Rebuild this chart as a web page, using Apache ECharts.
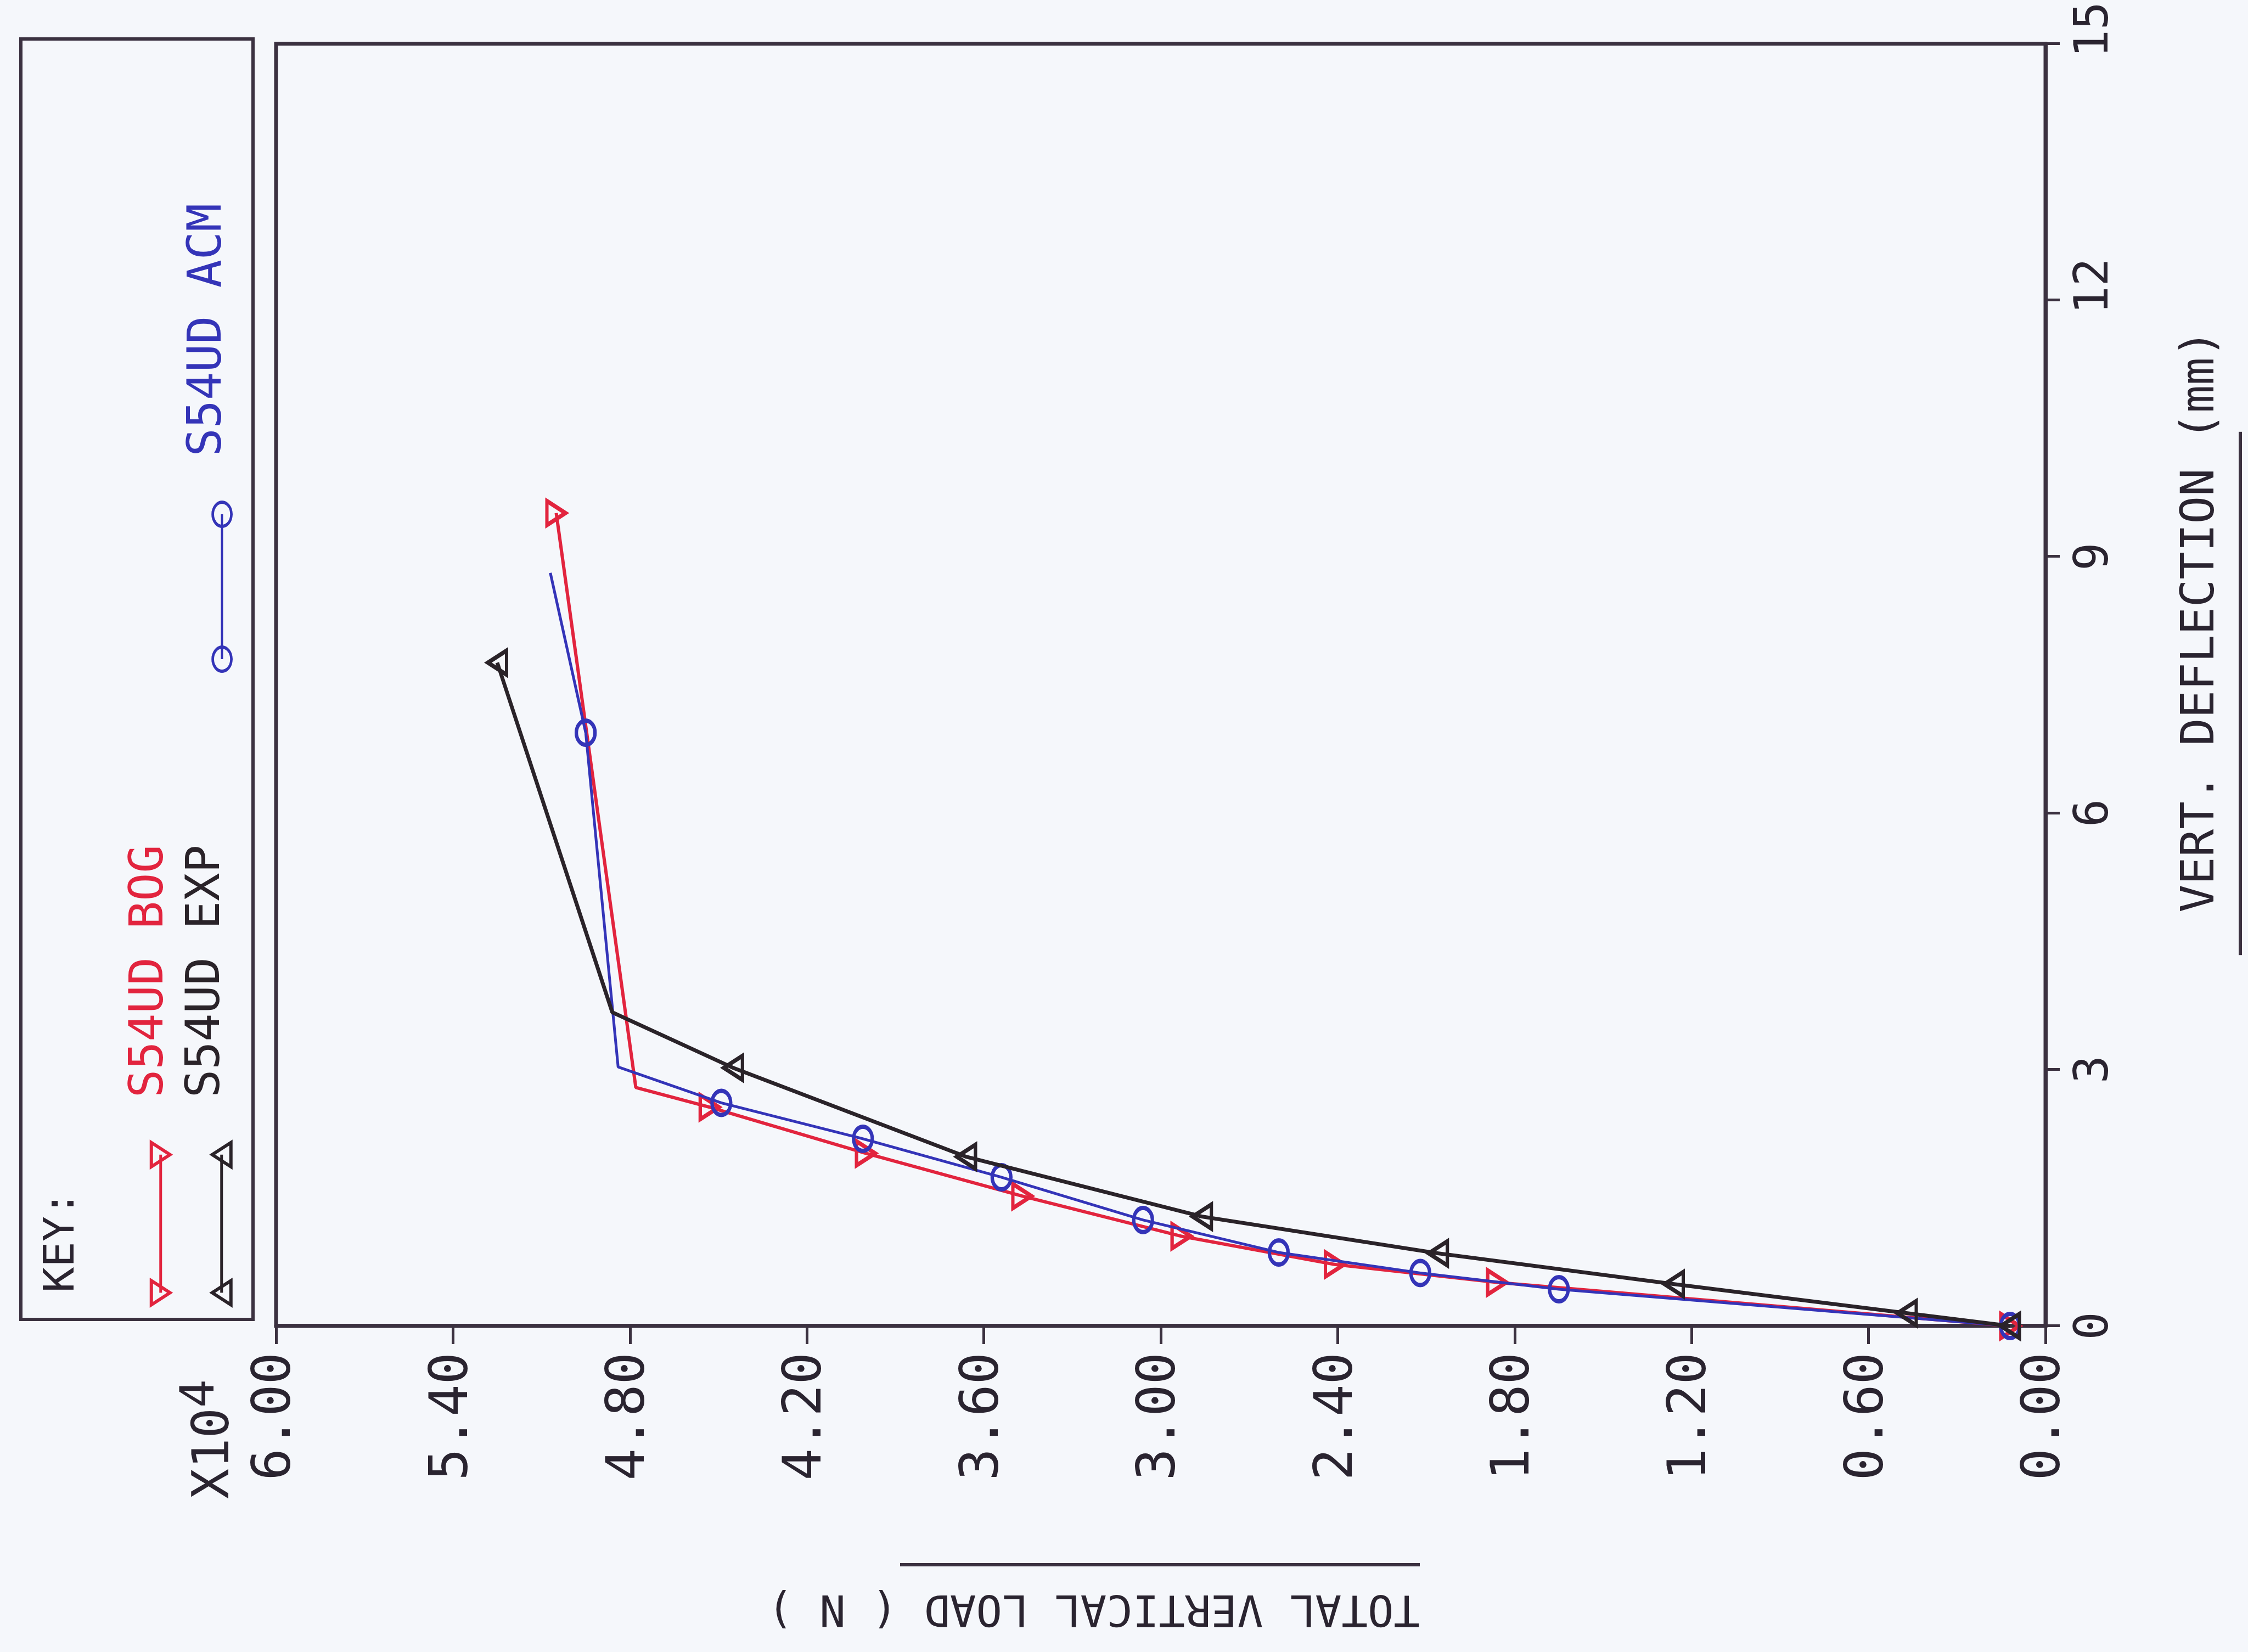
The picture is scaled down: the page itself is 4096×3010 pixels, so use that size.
<!DOCTYPE html>
<html>
<head>
<meta charset="utf-8">
<script src="https://cdn.jsdelivr.net/npm/echarts@6/dist/echarts.min.js"></script>
<style>
  html, body { margin: 0; padding: 0; width: 4096px; height: 3010px; overflow: hidden; background: #f5f7fb; }
  /* The plot is laid out upright and the sheet is then turned a quarter turn anticlockwise. */
  #chart { position: absolute; left: 543px; top: -543px; width: 3010px; height: 4096px;
           transform: rotate(-90deg); transform-origin: 50% 50%; }
</style>
</head>
<body>
<div id="chart"></div>
<script>
// Load-deflection curves for specimen S54UD: BOG and ACM predictions against experiment.
// Deflection in mm, load in units of 10^4 N.
const deflectionTicks = [0, 3, 6, 9, 12, 15];
const loadTicks = [0.00, 0.60, 1.20, 1.80, 2.40, 3.00, 3.60, 4.20, 4.80, 5.40, 6.00];

const bogDeflection = [0, 0.51, 0.72, 1.05, 1.52, 2.02, 2.56, 2.79, 9.51];
const bogLoad       = [0.12, 1.86, 2.41, 2.93, 3.47, 4.00, 4.53, 4.78, 5.05];
const bogUnmarked   = [7];

const expDeflection = [0, 0.15, 0.49, 0.85, 1.28, 1.98, 3.02, 3.67, 7.76];
const expLoad       = [0.12, 0.47, 1.26, 2.06, 2.86, 3.66, 4.45, 4.86, 5.25];
const expUnmarked   = [7];

const acmDeflection = [0, 0.43, 0.62, 0.86, 1.24, 1.74, 2.19, 2.61, 3.03, 6.94, 8.81];
const acmLoad       = [0.12, 1.65, 2.12, 2.60, 3.06, 3.54, 4.01, 4.49, 4.84, 4.95, 5.07];
const acmUnmarked   = [8, 10];

const seriesNames = ['S54UD BOG', 'S54UD EXP', 'S54UD ACM'];

const RED = '#e2243e';
const BLUE = '#3434b8';
const DARK = '#2a2329';
const AXIS = '#3b3140';
const TEXT = '#2a2430';
const BG = '#f5f7fb';
const FONT = '"DejaVu Sans Mono", "Liberation Mono", monospace';

const MARK = [44, 34];

function points(xs, ys, unmarked) {
  return xs.map((x, i) => unmarked.includes(i)
    ? { value: [x, ys[i]], symbol: 'none' }
    : [x, ys[i]]);
}

function lineSeries(name, data, color, width, symbol, rotate, z) {
  return {
    type: 'line', name, data, z,
    symbol, symbolRotate: rotate, symbolSize: MARK,
    showSymbol: true, showAllSymbol: true, clip: false,
    lineStyle: { color, width },
    itemStyle: { color: 'transparent', borderColor: color, borderWidth: 7 },
    emphasis: { disabled: true },
    animation: false
  };
}

// legend glyphs
function triangle(cx, cy, down, color) {
  const w = MARK[0] / 2, h = MARK[1] / 2;
  const pts = down
    ? [[cx - w, cy - h], [cx + w, cy - h], [cx, cy + h]]
    : [[cx, cy - h], [cx + w, cy + h], [cx - w, cy + h]];
  return { type: 'polygon', shape: { points: pts }, style: { fill: 'none', stroke: color, lineWidth: 6 }, z: 10 };
}
function ellipse(cx, cy, color) {
  return { type: 'circle', x: cx, y: cy, scaleY: MARK[1] / MARK[0],
           shape: { cx: 0, cy: 0, r: MARK[0] / 2 }, style: { fill: 'none', stroke: color, lineWidth: 6 }, z: 10 };
}
function segment(x1, y1, x2, y2, color, width) {
  return { type: 'line', shape: { x1, y1, x2, y2 }, style: { stroke: color, lineWidth: width }, z: 9 };
}
function label(text, x, y, size, color, extra) {
  return Object.assign({ type: 'text', x, y, z: 10,
    style: { text, fill: color, font: size + 'px ' + FONT,
             align: 'left', verticalAlign: 'middle', textAlign: 'left', textVerticalAlign: 'middle' } }, extra || {});
}

const chart = echarts.init(document.getElementById('chart'), null, { renderer: 'canvas' });

chart.setOption({
  backgroundColor: BG,
  animation: false,
  grid: { left: 594, right: 74, top: 503, bottom: 369, show: true, borderColor: AXIS, borderWidth: 7 },
  xAxis: {
    type: 'value',
    min: deflectionTicks[0], max: deflectionTicks[deflectionTicks.length - 1],
    interval: deflectionTicks[1] - deflectionTicks[0],
    axisLine: { show: true, onZero: false, lineStyle: { color: AXIS, width: 7 } },
    axisTick: { show: true, inside: false, length: 26, lineStyle: { color: AXIS, width: 5 } },
    splitLine: { show: false },
    axisLabel: {
      margin: 48, color: TEXT, fontFamily: FONT, fontSize: 85,
      formatter: v => v >= 10 ? '{w|' + v + '}' : String(v),
      rich: { w: { padding: [0, 0, 0, 51], color: TEXT, fontFamily: FONT, fontSize: 85 } }
    }
  },
  yAxis: {
    type: 'value',
    min: loadTicks[0], max: loadTicks[loadTicks.length - 1],
    interval: +(loadTicks[1] - loadTicks[0]).toFixed(2),
    axisLine: { show: true, onZero: false, lineStyle: { color: AXIS, width: 7 } },
    axisTick: { show: true, inside: false, length: 33, lineStyle: { color: AXIS, width: 5 } },
    splitLine: { show: false },
    axisLabel: {
      margin: 48, color: TEXT, fontFamily: FONT, fontSize: 97,
      padding: [0, 0, 48, 0],
      formatter: v => v.toFixed(2)
    }
  },
  series: [
    lineSeries(seriesNames[0], points(bogDeflection, bogLoad, bogUnmarked), RED, 6, 'triangle', 180, 3),
    lineSeries(seriesNames[2], points(acmDeflection, acmLoad, acmUnmarked), BLUE, 5, 'circle', 0, 4),
    lineSeries(seriesNames[1], points(expDeflection, expLoad, expUnmarked), DARK, 7, 'triangle', 0, 5)
  ],
  graphic: [
    // key box
    { type: 'rect', shape: { x: 606, y: 38, width: 2333, height: 423 },
      style: { fill: 'none', stroke: AXIS, lineWidth: 6 }, z: 8 },
    label('KEY:', 655, 114, 77, TEXT),
    segment(654.6, 292.8, 906.2, 292.8, RED, 5),
    triangle(654.6, 292.8, true, RED), triangle(906.2, 292.8, true, RED),
    label(seriesNames[0], 1010, 273.5, 85, RED),
    segment(654.6, 403.7, 906.2, 403.7, DARK, 5),
    triangle(654.6, 403.7, false, DARK), triangle(906.2, 403.7, false, DARK),
    label(seriesNames[1], 1010, 376.6, 85, DARK),
    segment(1809, 404.6, 2073, 404.6, BLUE, 4),
    ellipse(1809, 404.6, BLUE), ellipse(2073, 404.6, BLUE),
    label(seriesNames[2], 2178.6, 380.1, 85, BLUE),
    // load scale factor
    label('X10', 278.8, 392.4, 92, TEXT),
    label('4', 445, 367, 86, TEXT),
    // axis titles with their underlines
    label('TOTAL VERTICAL LOAD ( N )', 82.1, 1992.5, 79, TEXT, {
      rotation: Math.PI / 2,
      style: { text: 'TOTAL VERTICAL LOAD ( N )', fill: TEXT, font: '79px ' + FONT,
               align: 'center', verticalAlign: 'middle', textAlign: 'center', textVerticalAlign: 'middle' }
    }),
    segment(159, 1640, 159, 2587, AXIS, 6),
    label('VERT. DEFLECTION (mm)', 1347.5, 4011, 84, TEXT),
    segment(1269.8, 4082, 2223.2, 4082, AXIS, 6)
  ]
});
</script>
</body>
</html>
